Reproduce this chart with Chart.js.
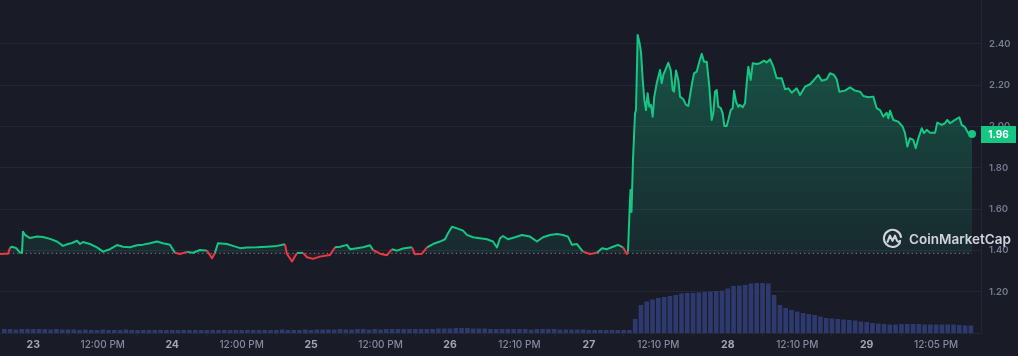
<!DOCTYPE html>
<html><head><meta charset="utf-8">
<script src="https://cdn.jsdelivr.net/npm/chart.js@4.4.1/dist/chart.umd.min.js"></script>
<style>
html,body{margin:0;padding:0;background:#191b27;}
#wrap{position:relative;width:1018px;height:356px;overflow:hidden;}
canvas{display:block;}
#wm{position:absolute;left:882px;top:228px;display:flex;align-items:center;gap:6px;font:600 13.5px Inter,sans-serif;color:rgba(228,230,237,0.9);line-height:20px;}
#wm svg{display:block;}
</style></head><body>
<div id="wrap"><canvas id="c" width="1018" height="356"></canvas>
<div id="wm"><svg width="21" height="21" viewBox="0 0 22 22"><path d="M18.8 15.5 A9 9 0 1 1 19.9 9.4" fill="none" stroke="rgba(228,230,237,0.9)" stroke-width="2.2" stroke-linecap="round"/><path d="M5.8 14.5 L8.3 8 L11 13.5 L13.6 8 L15.6 13 Q16.6 15.3 19 13.6" fill="none" stroke="rgba(228,230,237,0.9)" stroke-width="2.2" stroke-linecap="round" stroke-linejoin="round"/></svg><span>CoinMarketCap</span></div></div>
<script>
// ---- data (hours since day 23 00:00) ----
const tickHours = [0,12,24,36,48,60,72,84,96,108,120,132,144,156];
const tickLabels = ['23','12:00 PM','24','12:00 PM','25','12:00 PM','26','12:10 PM','27','12:10 PM','28','12:10 PM','29','12:05 PM'];
const yTicks = [1.2,1.4,1.6,1.8,2.0,2.2,2.4];
const BASE = 1.386;

const priceHours = [
-5.75,-4.89,-4.37,-4.03,-3.68,-2.99,-2.30,-1.95,-1.78,-1.43,-0.57,0.64,1.68,2.89,4.09,5.13,6.00,6.69,7.55,8.07,
8.59,9.80,11.01,12.04,13.25,14.46,15.50,16.71,17.92,18.96,20.16,21.37,22.41,23.62,24.48,25.35,26.56,27.59,28.80,30.01,
30.88,31.39,31.91,33.47,34.51,35.72,36.93,38.65,40.38,42.11,43.49,43.84,44.70,45.57,46.60,47.29,48.33,49.54,51.27,52.13,
53.00,54.20,54.72,55.93,56.97,58.18,58.70,59.91,61.12,61.98,62.84,63.88,65.43,65.95,67.16,68.03,69.06,70.27,71.14,71.66,
72.35,73.21,74.25,74.94,75.98,77.18,78.39,79.43,80.12,80.64,81.16,82.02,83.23,84.44,85.82,87.03,88.07,89.28,90.49,91.52,
92.39,93.08,93.94,94.98,96.19,97.40,98.27,99.13,100.17,101.03,101.89,102.58,102.76,103.05,103.19,103.36,103.62,103.97,104.14,104.43,
104.71,105.00,105.30,105.58,105.87,106.16,106.44,106.73,107.02,107.30,107.72,108.29,108.58,108.86,109.45,109.72,110.13,110.48,110.71,111.05,
111.45,111.75,112.32,112.78,113.18,113.77,114.17,114.63,115.08,115.50,115.89,116.36,116.81,117.22,117.50,117.79,118.08,118.36,118.78,119.12,
119.40,119.81,120.09,120.51,120.85,121.08,121.42,121.82,122.11,122.58,122.98,123.27,123.55,123.96,124.31,125.00,125.57,126.26,126.73,127.30,
127.87,128.45,129.32,129.89,130.46,131.04,131.91,132.48,133.34,134.21,134.78,135.64,136.23,137.09,137.66,138.36,138.82,139.27,140.25,141.12,
141.98,142.85,143.42,144.28,145.14,145.73,146.30,146.87,147.46,147.74,148.03,148.60,149.46,150.22,150.62,151.02,151.48,152.05,152.47,152.92,
153.51,153.90,154.37,154.94,155.81,156.20,156.96,157.53,157.93,158.40,159.26,160.00,160.42,160.99,161.56,162.20];
const priceValues = [
1.383,1.384,1.384,1.412,1.418,1.412,1.390,1.388,1.491,1.475,1.460,1.467,1.465,1.456,1.443,1.422,1.431,1.436,1.447,1.431,
1.441,1.431,1.415,1.394,1.406,1.426,1.418,1.415,1.425,1.428,1.435,1.443,1.435,1.427,1.389,1.383,1.393,1.389,1.402,1.399,
1.362,1.388,1.435,1.431,1.422,1.411,1.414,1.415,1.418,1.422,1.430,1.383,1.346,1.388,1.388,1.367,1.359,1.370,1.378,1.415,
1.418,1.427,1.406,1.411,1.415,1.425,1.402,1.384,1.377,1.406,1.399,1.409,1.415,1.382,1.384,1.415,1.431,1.443,1.454,1.483,
1.515,1.507,1.496,1.475,1.464,1.459,1.454,1.443,1.414,1.459,1.470,1.454,1.464,1.475,1.467,1.443,1.464,1.475,1.480,1.475,
1.467,1.427,1.431,1.394,1.383,1.389,1.411,1.406,1.418,1.427,1.415,1.383,1.395,1.611,1.693,1.586,1.838,2.064,2.080,2.444,
2.411,2.363,2.226,2.129,2.080,2.161,2.096,2.105,2.048,2.145,2.210,2.274,2.210,2.250,2.290,2.309,2.274,2.177,2.169,2.271,
2.226,2.145,2.132,2.105,2.100,2.201,2.258,2.266,2.314,2.352,2.314,2.314,2.193,2.032,2.064,2.169,2.177,2.096,2.089,2.064,
2.003,2.003,2.032,2.080,2.089,2.174,2.121,2.096,2.105,2.093,2.113,2.210,2.290,2.226,2.307,2.303,2.307,2.319,2.310,2.326,
2.290,2.234,2.234,2.181,2.185,2.164,2.185,2.153,2.193,2.205,2.222,2.250,2.222,2.229,2.258,2.250,2.229,2.169,2.174,2.190,
2.174,2.169,2.148,2.142,2.145,2.089,2.080,2.048,2.067,2.040,2.077,2.032,2.024,1.999,1.968,1.903,1.943,1.935,1.895,1.943,
1.992,1.968,1.984,1.970,1.970,2.019,2.008,2.016,2.032,2.016,2.032,2.045,2.008,1.997,1.968,1.964];

// hourly volume (relative units), first bar at hour -5
const volStartHour = -5;
const volumeValues = [
8,8,7,8,8,
8,8,8,7,8,7,7,7,6,7,6,6,7,6,6,6,7,6,6,6,
6,6,6,6,6,6,6,6,6,6,6,6,6,6,6,6,6,6,6,6,6,6,6,7,6,
6,6,7,6,7,7,7,7,8,7,7,8,8,7,8,7,8,8,8,8,8,8,8,8,8,
9,9,9,10,10,10,9,9,9,8,8,8,8,8,8,8,7,8,8,8,8,7,7,7,7,7,
6,6,6,6,6,6,6,
6,28,56,63,67,70,72,74,76,79,80,80,81,82,83,84,85,89,94,95,
96,99,100,100,99,76,56,50,46,43,40,38,36,33,30,29,28,27,26,25,
23,22,20,19,18,17,17,18,18,18,18,17,17,17,17,17,17,16,15,15];

// ---- styling ----
const GREEN = '#16c784', RED = '#ea3943', GRID = '#242737';
const lastIdx = priceValues.length - 1;
const lastH = priceHours[lastIdx];

function fillGrad(ctx){
  const chart = ctx.chart, area = chart.chartArea;
  if (!area) return 'rgba(22,199,132,0.15)';
  const yb = chart.scales.y.getPixelForValue(BASE);
  const f = Math.min(0.999, Math.max(0.001, (yb - area.top) / (area.bottom - area.top)));
  const g = chart.ctx.createLinearGradient(0, area.top, 0, area.bottom);
  g.addColorStop(0, 'rgba(22,199,132,0.38)');
  g.addColorStop(f, 'rgba(22,199,132,0.09)');
  g.addColorStop(f, 'rgba(234,57,67,0.08)');
  g.addColorStop(1, 'rgba(234,57,67,0.3)');
  return g;
}

const priceTag = {
  id: 'priceTag',
  afterDraw(chart){
    const ys = chart.scales.y, v = priceValues[lastIdx];
    const y = Math.round(ys.getPixelForValue(v));
    const c = chart.ctx; c.save();
    c.fillStyle = GREEN; c.fillRect(ys.left, y - 8, 35, 17);
    c.fillStyle = '#ffffff'; c.font = '700 10px Inter'; c.textAlign = 'center'; c.textBaseline = 'middle';
    c.fillText(v.toFixed(2), ys.left + 17.5, y + 0.5);
    c.restore();
  }
};

function noPad(s){ s.paddingTop = 0; s.paddingBottom = 0; s.paddingLeft = 0; s.paddingRight = 0; }

new Chart(document.getElementById('c'), {
  type: 'line',
  data: {
    datasets: [
      {
        label: 'Price', yAxisID: 'y', order: 0,
        data: priceHours.map((h, i) => ({x: h, y: priceValues[i]})),
        borderColor: GREEN, borderWidth: 2, tension: 0, borderJoinStyle: 'round',
        segment: { borderColor: c => (c.p0.parsed.y < BASE || c.p1.parsed.y < BASE) ? RED : GREEN },
        fill: { target: { value: BASE } },
        backgroundColor: fillGrad,
        pointRadius: c => c.dataIndex === lastIdx ? 4 : 0,
        pointBackgroundColor: GREEN, pointBorderWidth: 0, pointHoverRadius: 0
      },
      {
        label: 'Base', yAxisID: 'y', order: 1,
        data: [{x: priceHours[0], y: BASE}, {x: lastH, y: BASE}],
        borderColor: 'rgba(200,204,216,0.6)', borderWidth: 1, borderDash: [1.3, 3],
        pointRadius: 0, fill: false
      },
      {
        type: 'bar', label: 'Volume', yAxisID: 'yv', order: 2,
        data: volumeValues.map((v, i) => ({x: volStartHour + i, y: v})),
        backgroundColor: '#2e3a6d', borderWidth: 0,
        barPercentage: 0.8, categoryPercentage: 1
      }
    ]
  },
  options: {
    responsive: false, animation: false, events: [],
    layout: { padding: 0, autoPadding: false },
    plugins: { legend: { display: false }, tooltip: { enabled: false } },
    scales: {
      x: {
        type: 'linear', min: -5.75, max: 163.75, offset: false,
        grid: { display: true, drawOnChartArea: false, drawTicks: true, tickLength: 3, color: GRID },
        border: { display: true, color: GRID },
        afterBuildTicks: s => { s.ticks = tickHours.map(v => ({value: v})); },
        afterFit: s => { s.height = 23; noPad(s); },
        ticks: {
          padding: 3, maxRotation: 0, autoSkip: false,
          callback: (v, i) => tickLabels[i],
          color: c => /^\d+$/.test(tickLabels[c.index]) ? '#a2a7b7' : '#858b9d',
          font: c => /^\d+$/.test(tickLabels[c.index])
            ? {family: 'Inter', size: 10.5, weight: '700'}
            : {family: 'Inter', size: 10, weight: '500'}
        }
      },
      y: {
        position: 'right', min: 1.0, max: 2.613,
        grid: { color: GRID, drawTicks: false },
        border: { display: true, color: GRID },
        afterBuildTicks: s => { s.ticks = yTicks.map(v => ({value: v})); },
        afterFit: s => { s.width = 37; noPad(s); },
        ticks: {
          padding: 8, color: '#767c8e',
          font: {family: 'Inter', size: 9.5, weight: '600'},
          callback: v => v.toFixed(2)
        }
      },
      yv: { display: false, min: 0, max: 666 }
    }
  },
  plugins: [priceTag]
});
</script>
</body></html>
